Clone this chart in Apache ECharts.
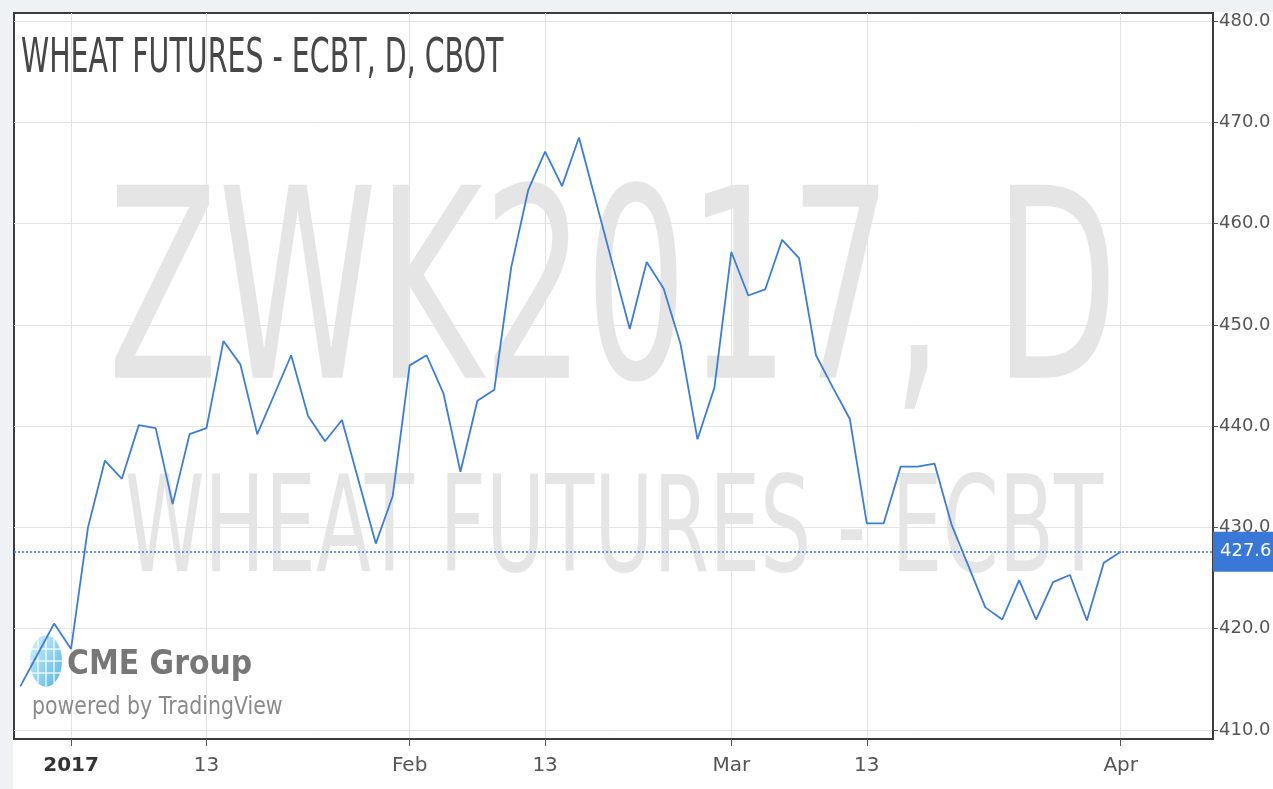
<!DOCTYPE html>
<html>
<head>
<meta charset="utf-8">
<script src="https://cdn.jsdelivr.net/npm/echarts@6/dist/echarts.min.js"></script>
<style>
  html, body { margin: 0; padding: 0; background: #fff; }
  #main { width: 1273px; height: 789px; }
</style>
</head>
<body>
<div id="main"></div>
<script>
// trading days shown on the chart (weekends / holidays skipped)
const dates = [
  '2016-12-28', '2016-12-29', '2016-12-30',
  '2017-01-03', '2017-01-04', '2017-01-05', '2017-01-06', '2017-01-09', '2017-01-10',
  '2017-01-11', '2017-01-12', '2017-01-13', '2017-01-17', '2017-01-18', '2017-01-19',
  '2017-01-20', '2017-01-23', '2017-01-24', '2017-01-25', '2017-01-26', '2017-01-27',
  '2017-01-30', '2017-01-31', '2017-02-01', '2017-02-02', '2017-02-03', '2017-02-06',
  '2017-02-07', '2017-02-08', '2017-02-09', '2017-02-10', '2017-02-13', '2017-02-14',
  '2017-02-15', '2017-02-16', '2017-02-17', '2017-02-21', '2017-02-22', '2017-02-23',
  '2017-02-24', '2017-02-27', '2017-02-28', '2017-03-01', '2017-03-02', '2017-03-03',
  '2017-03-06', '2017-03-07', '2017-03-08', '2017-03-09', '2017-03-10', '2017-03-13',
  '2017-03-14', '2017-03-15', '2017-03-16', '2017-03-17', '2017-03-20', '2017-03-21',
  '2017-03-22', '2017-03-23', '2017-03-24', '2017-03-27', '2017-03-28', '2017-03-29',
  '2017-03-30', '2017-03-31', '2017-04-03'
];

const prices = [
  414.3, 417.4, 420.5,
  418.0, 430.0, 436.6, 434.8, 440.1, 439.8,
  432.3, 439.2, 439.8, 448.4, 446.1, 439.2,
  443.1, 447.0, 441.0, 438.5, 440.6, 434.5,
  428.4, 433.1, 446.0, 447.0, 443.2, 435.5,
  442.5, 443.6, 455.7, 463.3, 467.1, 463.7,
  468.5, 462.2, 455.9, 449.6, 456.2, 453.6,
  448.1, 438.7, 443.8, 457.2, 452.9, 453.5,
  458.4, 456.6, 447.0, 443.8, 440.7, 430.4,
  430.4, 436.0, 436.0, 436.3, 430.3, 426.2,
  422.1, 420.9, 424.8, 420.9, 424.6, 425.3,
  420.8, 426.5, 427.6
];

const tickDates = ['2017-01-03', '2017-01-13', '2017-02-01', '2017-02-13', '2017-03-01', '2017-03-13', '2017-04-03'];
const tickLabels = ['2017', '13', 'Feb', '13', 'Mar', '13', 'Apr'];
const priceTicks = [410, 420, 430, 440, 450, 460, 470, 480];
const lastPrice = 427.6;

const myChart = echarts.init(document.getElementById('main'));

// x is the trading-day index, 0 = first bar of 2017
const origin = dates.indexOf('2017-01-03');
const seriesData = prices.map((v, i) => [i - origin, v]);
const tickIdx = tickDates.map(d => dates.indexOf(d) - origin);

const axisFont = '"DejaVu Sans", sans-serif';
const watermark = 'rgba(0,0,0,0.1)';

const option = {
  animation: false,
  backgroundColor: '#fff',
  grid: {
    left: 14, right: 60, top: 13, bottom: 50,
    outerBoundsMode: 'none',
    containLabel: false,
    show: true,
    borderColor: '#3c3c3c',
    borderWidth: 2,
    backgroundColor: '#fff'
  },
  xAxis: {
    type: 'value',
    min: -3.37,
    max: 67.45,
    axisLine: { show: true, onZero: false, lineStyle: { color: '#3c3c3c', width: 2 } },
    axisTick: { show: true, customValues: tickIdx, length: 7, lineStyle: { color: '#555' } },
    axisLabel: {
      customValues: tickIdx,
      margin: 17,
      color: '#555',
      fontSize: 20,
      fontFamily: axisFont,
      formatter: v => {
        const k = tickIdx.indexOf(Math.round(v));
        if (k === 0) return '{b|' + tickLabels[k] + '}';
        return k >= 0 ? tickLabels[k] : '';
      },
      rich: {
        b: { fontWeight: 'bold', color: '#333', fontSize: 20, fontFamily: axisFont }
      }
    },
    splitLine: { show: true, lineStyle: { color: '#e4e4e4', width: 1 } }
  },
  yAxis: {
    type: 'value',
    position: 'right',
    min: 409.1,
    max: 480.8,
    axisLine: { show: true, onZero: false, lineStyle: { color: '#3c3c3c', width: 2 } },
    axisTick: { show: true, customValues: priceTicks, length: 5, lineStyle: { color: '#555' } },
    axisLabel: {
      customValues: priceTicks,
      margin: 6,
      color: '#555',
      fontSize: 18,
      fontFamily: axisFont,
      formatter: v => v.toFixed(1)
    },
    splitLine: { show: true, lineStyle: { color: '#e4e4e4', width: 1 } }
  },
  graphic: [
    {
      type: 'text', x: 613, y: 309, z: 0, scaleX: 0.607,
      style: { text: 'ZWK2017, D', fill: watermark, font: '265px "DejaVu Sans"', align: 'center', verticalAlign: 'middle' }
    },
    {
      type: 'text', x: 614, y: 536, z: 0, scaleX: 0.606,
      style: { text: 'WHEAT FUTURES - ECBT', fill: watermark, font: '133px "DejaVu Sans"', align: 'center', verticalAlign: 'middle' }
    },
    {
      type: 'text', x: 21, y: 60, z: 5, scaleX: 0.593,
      style: { text: 'WHEAT FUTURES - ECBT, D, CBOT', fill: '#474747', font: '48px "DejaVu Sans"', align: 'left', verticalAlign: 'middle' }
    },
    {
      type: 'group', x: 46, y: 661, z: 1,
      children: [
        {
          type: 'circle', shape: { cx: 0, cy: 0, r: 16 }, scaleY: 1.6,
          style: {
            fill: { type: 'linear', x: 0, y: 0, x2: 1, y2: 1, colorStops: [
              { offset: 0, color: '#d6f0fb' }, { offset: 0.5, color: '#7fcdee' }, { offset: 1, color: '#3aa6d8' }
            ] },
            opacity: 0.85
          }
        },
        { type: 'line', shape: { x1: -15, y1: -12, x2: 15, y2: -12 }, style: { stroke: '#fff', lineWidth: 1.2 } },
        { type: 'line', shape: { x1: -16, y1: 0, x2: 16, y2: 0 }, style: { stroke: '#fff', lineWidth: 1.2 } },
        { type: 'line', shape: { x1: -15, y1: 12, x2: 15, y2: 12 }, style: { stroke: '#fff', lineWidth: 1.2 } },
        { type: 'line', shape: { x1: 0, y1: -25, x2: 0, y2: 25 }, style: { stroke: '#fff', lineWidth: 1.2 } },
        { type: 'line', shape: { x1: -8, y1: -22, x2: -8, y2: 22 }, style: { stroke: '#fff', lineWidth: 1.2 } },
        { type: 'line', shape: { x1: 8, y1: -22, x2: 8, y2: 22 }, style: { stroke: '#fff', lineWidth: 1.2 } }
      ]
    },
    {
      type: 'text', x: 67, y: 665, z: 1, scaleX: 0.88,
      style: { text: 'CME Group', fill: '#777', font: 'bold 34px "DejaVu Sans"', align: 'left', verticalAlign: 'middle' }
    },
    {
      type: 'text', x: 32, y: 707, z: 1, scaleX: 0.82,
      style: { text: 'powered by TradingView', fill: '#8a8a8a', font: '25px "DejaVu Sans"', align: 'left', verticalAlign: 'middle' }
    },
    // page margin strips around the chart frame
    { type: 'rect', z: 100, shape: { x: 0, y: 0, width: 1273, height: 12 }, style: { fill: '#eef2f5' } },
    { type: 'rect', z: 100, shape: { x: 0, y: 0, width: 13, height: 789 }, style: { fill: '#eef2f5' } }
  ],
  series: [
    {
      name: 'ZWK2017',
      type: 'line',
      data: seriesData,
      showSymbol: false,
      z: 3,
      lineStyle: { color: '#3c7ddb', width: 1.8 },
      markLine: {
        silent: true,
        symbol: 'none',
        lineStyle: { color: '#3c7ddb', type: [2, 2], width: 1.5 },
        label: {
          position: 'end',
          distance: 0,
          formatter: lastPrice.toFixed(1),
          color: '#fff',
          backgroundColor: '#3a78d8',
          fontSize: 18,
          fontFamily: axisFont,
          padding: [11, 8, 11, 7]
        },
        data: [{ yAxis: lastPrice }]
      }
    }
  ]
};

myChart.setOption(option);
</script>
</body>
</html>
